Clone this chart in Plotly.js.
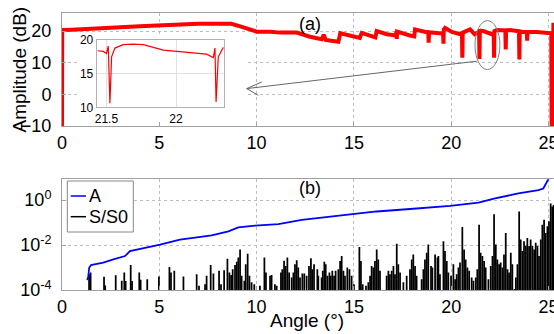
<!DOCTYPE html>
<html><head><meta charset="utf-8">
<script src="https://cdn.plot.ly/plotly-3.0.1.min.js"></script>
<style>html,body{margin:0;padding:0;background:#fff;}#chart{width:554px;height:334px;}</style>
</head><body><div id="chart"></div>
<script>
// (a) amplitude (dB) vs angle (deg)
const ampAngle = [0, 0.01, 0.5, 1, 2, 3, 4, 5, 6, 7,
  8, 8.7, 9.2, 9.5, 10, 10.7, 11.2, 12.06, 12.74, 13.34,
  13.45, 13.55, 14.2, 14.3, 14.8, 15.3, 15.4, 15.83, 16.1, 16.17,
  16.69, 17.16, 17.18, 17.2, 17.22, 17.88, 18.1, 18.14, 18.74, 18.82,
  18.84, 18.86, 19.51, 19.58, 19.6, 19.62, 19.68, 20.03, 20.45, 20.55,
  20.57, 20.59, 20.97, 21.2, 21.43, 21.45, 21.47, 21.65, 22.08, 22.18,
  22.2, 22.22, 22.34, 22.78, 22.8, 22.82, 23.02, 23.48, 23.5, 23.52,
  23.7, 23.88, 23.9, 23.92, 24.39, 24.99, 25.14, 25.16, 25.2, 25.25];
const ampDb = [-12, 20.3, 20.4, 20.5, 20.8, 21.2, 21.5, 21.8, 22.0, 22.3,
  22.3, 22.3, 21.4, 20.8, 19.8, 19.8, 19.5, 19.5, 18.2, 17.4,
  18.8, 17.2, 16.6, 19.3, 18.4, 17.8, 19.4, 18.4, 18.0, 20.0,
  19.0, 18.6, 19.9, 17.5, 19.8, 18.6, 18.3, 20.5, 19.5, 19.5,
  16.3, 19.6, 19.2, 19.3, 16.0, 20.5, 21.0, 19.7, 19.0, 19.2,
  11.6, 19.5, 20.5, 19.0, 19.8, 11.2, 20.0, 20.0, 19.0, 19.4,
  11.6, 20.0, 20.3, 20.2, 14.2, 20.2, 20.3, 19.9, 11.0, 19.9,
  19.7, 19.7, 17.0, 19.7, 19.7, 19.5, 19.3, -12, -12, 22.6];

// inset: zoom of 21.4 - 22.35 deg
const insetAngle = [21.437, 21.477, 21.5, 21.513, 21.525, 21.537, 21.561, 21.62, 21.69, 21.765,
  21.837, 21.91, 22.005, 22.124, 22.22, 22.268, 22.28, 22.288, 22.304, 22.34];
const insetDb = [18.4, 18.3, 18.0, 19.1, 10.6, 17.5, 18.8, 19.3, 19.4, 19.3,
  18.9, 18.5, 18.3, 18.1, 17.9, 17.4, 18.8, 10.8, 17.5, 18.9];

// (b) A vs angle
const aAngle = [1.30, 1.35, 1.40, 1.50, 1.60, 2.12, 2.64, 3.24, 3.49, 4.35,
  5.04, 6.06, 6.92, 7.69, 8.55, 9.06, 9.92, 11.12, 12.32, 14.46,
  16.17, 17.88, 19.94, 21.4, 22.25, 23.45, 24.48, 24.73, 24.85, 24.95, 25.1];
const aValue = [2.75e-4, 4.0e-4, 1.0e-3, 1.29e-3, 1.35e-3, 1.66e-3, 2.29e-3, 3.24e-3, 5.37e-3, 7.59e-3,
  1.05e-2, 1.74e-2, 2.19e-2, 2.69e-2, 4.07e-2, 6.03e-2, 7.24e-2, 8.51e-2, 0.132, 0.219,
  0.309, 0.398, 0.55, 0.759, 1.17, 1.95, 2.75, 3.24, 5.01, 7.59, 12.6];

// (b) S/S0 vs angle (stored as log10 of the ratio)
const sAngle = [1.39, 1.47, 2.16, 2.22, 2.76, 3.07, 3.2, 3.27, 3.53, 3.6,
  3.97, 4.04, 4.38, 4.98, 5.52, 5.6, 5.77, 6.24, 6.92, 7.04,
  7.35, 7.43, 7.64, 7.78, 8.07, 8.17, 8.33, 8.5, 8.6, 8.69,
  8.77, 8.89, 8.98, 9.06, 9.15, 9.23, 9.37, 9.44, 9.54, 9.63,
  9.74, 9.88, 10.17, 10.4, 10.48, 10.69, 10.77, 10.94, 11.03, 11.25,
  11.32, 11.41, 11.49, 11.58, 11.67, 11.8, 11.89, 11.97, 12.06, 12.14,
  12.23, 12.35, 12.45, 12.57, 12.69, 12.79, 12.86, 12.95, 13.12, 13.17,
  13.34, 13.4, 13.48, 13.55, 13.64, 13.74, 13.81, 13.89, 13.98, 14.06,
  14.2, 14.29, 14.37, 14.46, 14.54, 14.66, 14.77, 14.88, 15.0, 15.28,
  15.36, 15.45, 15.62, 15.74, 15.83, 15.91, 16.0, 16.08, 16.17, 16.25,
  16.34, 16.68, 16.77, 16.85, 16.94, 17.03, 17.11, 17.2, 17.28, 17.37,
  17.54, 17.71, 17.88, 17.97, 18.05, 18.14, 18.22, 18.48, 18.57, 18.65,
  18.74, 18.82, 18.96, 19.03, 19.17, 19.29, 19.34, 19.42, 19.6, 19.68,
  19.77, 19.85, 19.99, 20.11, 20.2, 20.28, 20.37, 20.45, 20.57, 20.66,
  20.74, 20.83, 20.92, 21.05, 21.14, 21.26, 21.34, 21.43, 21.51, 21.6,
  21.69, 21.77, 21.91, 22.03, 22.12, 22.2, 22.29, 22.37, 22.46, 22.54,
  22.63, 22.71, 22.8, 22.89, 22.97, 23.06, 23.14, 23.25, 23.32, 23.4,
  23.49, 23.57, 23.66, 23.74, 23.83, 23.91, 24.0, 24.08, 24.17, 24.26,
  24.34, 24.43, 24.51, 24.6, 24.68, 24.77, 24.85, 24.94, 25.02, 25.11,
  25.19, 25.26];
const sLog10 = [-3.3, -3.22, -3.41, -3.8, -3.34, -3.59, -3.22, -3.6, -2.89, -3.6,
  -3.22, -3.55, -3.52, -3.4, -2.98, -3.22, -3.15, -3.4, -3.3, -3.81,
  -3.74, -3.37, -2.89, -3.27, -3.15, -3.74, -3.12, -2.61, -3.22, -3.33,
  -3.08, -2.89, -2.75, -2.56, -2.2, -3.37, -3.59, -2.86, -2.39, -3.37,
  -3.66, -3.74, -3.81, -2.56, -3.22, -3.37, -3.33, -3.74, -3.81, -3.22,
  -3.08, -2.7, -2.93, -2.56, -3.22, -3.44, -3.22, -2.86, -2.68, -3.0,
  -3.44, -3.27, -3.27, -3.37, -2.93, -2.59, -3.08, -2.86, -3.08, -3.37,
  -3.44, -3.15, -2.74, -2.86, -3.37, -3.22, -3.37, -3.15, -3.37, -3.15,
  -3.08, -2.71, -2.49, -3.15, -3.37, -3.0, -3.08, -3.37, -3.74, -2.09,
  -2.71, -3.74, -3.81, -3.66, -3.37, -2.93, -3.0, -2.71, -2.2, -2.64,
  -3.15, -3.37, -3.15, -3.3, -3.15, -2.93, -3.3, -1.95, -2.86, -3.22,
  -3.66, -3.37, -3.08, -2.64, -2.42, -2.93, -3.37, -3.52, -3.08, -2.64,
  -2.34, -1.98, -2.93, -3.0, -2.42, -2.56, -2.49, -3.3, -1.83, -2.27,
  -2.71, -3.22, -3.37, -2.86, -3.52, -3.3, -3.0, -2.78, -1.2, -2.2,
  -2.64, -3.0, -3.15, -3.44, -3.59, -3.44, -3.08, -1.1, -2.34, -2.49,
  -2.71, -3.0, -3.52, -2.93, -2.49, -0.63, -1.98, -2.64, -2.86, -2.78,
  -3.0, -2.42, -1.47, -3.08, -3.22, -2.34, -2.86, -3.96, -3.44, -2.86,
  -0.51, -1.76, -2.27, -1.83, -2.05, -1.69, -2.05, -1.76, -2.05, -2.2,
  -1.9, -2.05, -2.49, -1.76, -1.1, -0.88, -1.47, -1.17, -0.95, -0.15,
  -0.29, -0.22];
const sRatio = sLog10.map(v => Math.pow(10, v));

const FONT = 'Liberation Sans, Arial, Helvetica, sans-serif';
const GRID = '#bdbdbd';
const LINE = '#a0a0a0';

const traces = [
  {type:'scatter', mode:'lines', x:ampAngle, y:ampDb, xaxis:'x', yaxis:'y',
   line:{color:'#ff0000', width:4}, name:'Amplitude', showlegend:false},
  {type:'bar', x:sAngle, y:sRatio, xaxis:'x2', yaxis:'y2', width:0.09,
   marker:{color:'#000000', line:{width:0}}, name:'S/S0', showlegend:false},
  {type:'scatter', mode:'lines', x:aAngle, y:aValue, xaxis:'x2', yaxis:'y2',
   line:{color:'#0000ff', width:1.8}, name:'A', showlegend:false},
  {type:'scatter', mode:'lines', x:insetAngle, y:insetDb, xaxis:'x3', yaxis:'y3',
   line:{color:'#ff0000', width:1.2}, name:'inset', showlegend:false}
];

const mainAxis = {
  showgrid:true, gridcolor:GRID, griddash:'dot', gridwidth:1, zeroline:false,
  showline:true, mirror:true, linecolor:LINE, linewidth:1,
  ticks:'inside', ticklen:4, tickcolor:LINE, ticklabeloverflow:'allow',
  tickfont:{family:FONT, size:18, color:'#000'}
};
const insetAxis = {
  showgrid:true, gridcolor:'#e2e2e2', gridwidth:1, zeroline:false,
  showline:true, mirror:true, linecolor:'#b0b0b0', linewidth:1,
  ticks:'', tickfont:{family:FONT, size:12, color:'#000'}
};

const H = 277, W = 492;
const px = p => (p - 62) / W;
const py = p => (290 - p) / H;

const layout = {
  width:554, height:334,
  margin:{l:62, r:0, t:13, b:44, pad:0},
  paper_bgcolor:'#ffffff', plot_bgcolor:'#ffffff',
  showlegend:false,
  font:{family:FONT, size:18, color:'#000'},
  xaxis:Object.assign({}, mainAxis, {domain:[0,1], anchor:'y', range:[0,25.28], tickvals:[0,5,10,15,20,25]}),
  yaxis:Object.assign({}, mainAxis, {domain:[py(126),1], anchor:'x', range:[-10,25.7], tickvals:[-10,0,10,20], ticklabelstandoff:6}),
  xaxis2:Object.assign({}, mainAxis, {domain:[0,1], anchor:'y2', range:[0,25.28], tickvals:[0,5,10,15,20,25]}),
  yaxis2:Object.assign({}, mainAxis, {domain:[0,py(179.3)], anchor:'x2', type:'log', range:[-4,0.92], ticklabelstandoff:6,
    tickvals:[1e-4,1e-2,1], ticktext:['10<sup>-4</sup>','10<sup>-2</sup>','10<sup>0</sup>']}),
  xaxis3:Object.assign({}, insetAxis, {domain:[px(96.7),px(224)], anchor:'y3', range:[21.43,22.345], tickvals:[21.5,22]}),
  yaxis3:Object.assign({}, insetAxis, {domain:[py(107.3),py(40)], anchor:'x3', range:[10,20], tickvals:[10,15,20]}),
  shapes:[
    {type:'rect', xref:'x', yref:'y', x0:0.77, x1:9.4, y0:-9.5, y1:18.7, fillcolor:'#ffffff', line:{width:0}, layer:'between'},
    {type:'circle', xref:'x', yref:'y', x0:21.22, x1:22.5, y0:7.84, y1:23.3, line:{color:'#808080', width:1}, layer:'above'},
    {type:'line', xref:'x', yref:'y', x0:21.31, y0:10.48, x1:9.49, y1:1.81, line:{color:'#666666', width:1}, layer:'above'},
    {type:'path', xref:'x', yref:'y', xsizemode:'pixel', ysizemode:'pixel', xanchor:9.49, yanchor:1.81,
     path:'M15,6.6 L0,0 L11.7,-6.7', line:{color:'#666666', width:1}, layer:'above'},
    {type:'rect', xref:'paper', yref:'paper', x0:px(67.3), x1:px(133.3), y0:py(232), y1:py(181),
     fillcolor:'#ffffff', line:{color:'#888888', width:1}, layer:'above'},
    {type:'line', xref:'paper', yref:'paper', x0:px(70.7), x1:px(86), y0:py(196), y1:py(196), line:{color:'#0000ff', width:1.5}, layer:'above'},
    {type:'line', xref:'paper', yref:'paper', x0:px(70.7), x1:px(86), y0:py(216.7), y1:py(216.7), line:{color:'#000000', width:1.5}, layer:'above'}
  ],
  annotations:[
    {text:'Amplitude (dB)', xref:'paper', yref:'paper', x:px(19), y:py(69.5), textangle:-90, showarrow:false,
     xanchor:'center', yanchor:'middle', font:{family:FONT, size:19, color:'#000'}},
    {text:'Angle (°)', xref:'paper', yref:'paper', x:px(307), y:py(320), showarrow:false,
     xanchor:'center', yanchor:'middle', font:{family:FONT, size:19, color:'#000'}},
    {text:'(a)', xref:'paper', yref:'paper', x:px(310), y:py(24), showarrow:false, xanchor:'center', yanchor:'middle', font:{family:FONT, size:18}},
    {text:'(b)', xref:'paper', yref:'paper', x:px(310), y:py(188.3), showarrow:false, xanchor:'center', yanchor:'middle', font:{family:FONT, size:18}},
    {text:'A', xref:'paper', yref:'paper', x:px(86.5), y:py(196), showarrow:false, xanchor:'left', yanchor:'middle', font:{family:FONT, size:18}},
    {text:'S/S0', xref:'paper', yref:'paper', x:px(86.5), y:py(216.7), showarrow:false, xanchor:'left', yanchor:'middle', font:{family:FONT, size:18}}
  ]
};

Plotly.newPlot('chart', traces, layout, {displayModeBar:false, staticPlot:true}).then(() => {
  // remove zero-size helper/placeholder text nodes (empty axis titles, measurement tester)
  document.querySelectorAll('svg text').forEach(el => {
    let empty = !el.textContent || !el.textContent.trim();
    if (!empty) {
      try { const b = el.getBBox(); empty = (b.width === 0 || b.height === 0); } catch (e) {}
    }
    if (empty) el.remove();
  });
  const tester = document.getElementById('js-plotly-tester');
  if (tester) tester.querySelectorAll('text').forEach(el => el.remove());
});
</script>
</body></html>
